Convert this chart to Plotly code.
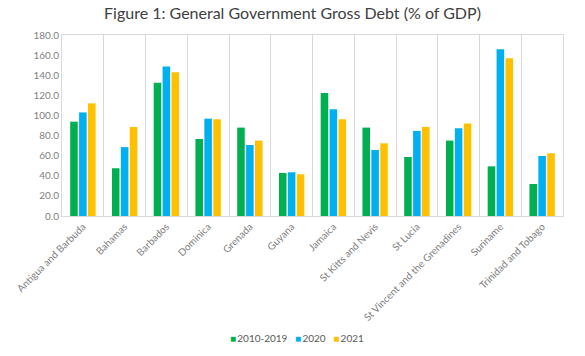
import plotly.graph_objects as go

countries = ["Antigua and Barbuda", "Bahamas", "Barbados", "Dominica", "Grenada", "Guyana",
             "Jamaica", "St Kitts and Nevis", "St Lucia", "St Vincent and the Grenadines",
             "Suriname", "Trinidad and Tobago"]
debt_2010_2019 = [93.8, 47.5, 132.6, 76.6, 87.9, 42.8, 122.4, 87.9, 58.7, 75.0, 49.4, 31.8]
debt_2020 = [103.0, 68.5, 148.6, 96.8, 70.6, 43.5, 106.2, 65.7, 84.6, 87.2, 165.9, 59.7]
debt_2021 = [112.0, 88.6, 143.0, 96.2, 75.0, 41.5, 96.2, 72.3, 88.6, 91.9, 157.0, 62.4]
y_ticks = [0, 20, 40, 60, 80, 100, 120, 140, 160, 180]

series = [("2010-2019", debt_2010_2019, "#00B050"),
          ("2020", debt_2020, "#00B0F0"),
          ("2021", debt_2021, "#FFC000")]

fig = go.Figure()
for name, vals, col in series:
    fig.add_trace(go.Bar(x=countries, y=vals, name=name, marker_color=col,
                         marker_line_width=0, showlegend=False))

# compact Excel-style legend as a single line of text
legend_text = "&nbsp;&nbsp;&nbsp;".join(
    f"<span style='color:{col}'>■</span>&#8201;{name}" for name, _, col in series)

font = "Lato, 'Open Sans', sans-serif"
fig.update_layout(
    width=585, height=356,
    margin=dict(l=62, r=22, t=35, b=140),
    paper_bgcolor="white", plot_bgcolor="white",
    barmode="group", bargap=0.36, bargroupgap=0.15,
    title=dict(text="Figure 1: General Government Gross Debt (% of GDP)",
               x=0.5, xanchor="center", y=0.963, yanchor="middle",
               font=dict(family=font, size=16, color="#404040")),
    font=dict(family=font, size=10, color="#808080"),
    showlegend=False,
    annotations=[dict(text=legend_text, xref="paper", yref="paper", x=0.47, y=-0.674,
                      xanchor="center", yanchor="middle", showarrow=False,
                      font=dict(family=font, size=10, color="#595959"))],
)
fig.update_xaxes(tickangle=-45, tickson="boundaries", showgrid=True, gridcolor="#D9D9D9",
                 gridwidth=1, showline=True, linecolor="#D9D9D9", mirror=True,
                 ticks="", tickfont=dict(size=10, color="#808080"))
fig.update_yaxes(range=[0, 180], tickvals=y_ticks,
                 ticktext=[f"{v:.1f}" for v in y_ticks], showgrid=False,
                 showline=True, linecolor="#D9D9D9", mirror=True, zeroline=False,
                 ticks="", tickfont=dict(size=10, color="#808080"))

fig.write_html("out.html", config={"displayModeBar": False},
               post_script="document.body.style.margin='0';")
